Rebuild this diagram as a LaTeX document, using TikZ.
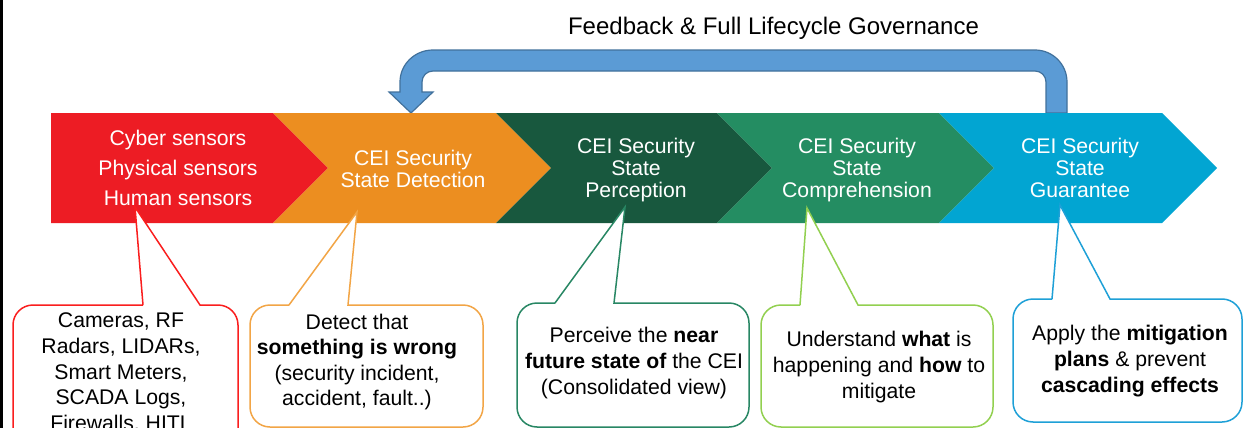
\documentclass[tikz,border=0pt]{standalone}
\usepackage{fontspec}
\setmainfont{Liberation Sans}
\usetikzlibrary{positioning,calc}
\definecolor{stRed}{RGB}{237,28,36}
\definecolor{stOrange}{RGB}{236,142,32}
\definecolor{stDkGreen}{RGB}{24,88,62}
\definecolor{stGreen}{RGB}{36,141,98}
\definecolor{stBlue}{RGB}{2,165,210}
\definecolor{bxRed}{RGB}{250,30,30}
\definecolor{bxOrange}{RGB}{242,165,70}
\definecolor{bxDkGreen}{RGB}{40,135,100}
\definecolor{bxGreen}{RGB}{146,208,80}
\definecolor{bxBlue}{RGB}{30,160,215}
\definecolor{fbBlue}{RGB}{91,155,213}
\definecolor{fbEdge}{RGB}{65,113,156}

\begin{document}
\begin{tikzpicture}[x=0.5pt, y=-0.5pt, semithick,
 stage/.style={text=white, align=center, font=\fontsize{10.6}{11}\selectfont},
 note/.style={align=center, font=\fontsize{10.6}{12.8}\selectfont}]
 \clip (0,0) rectangle (1243,428);
 \fill[white] (0,0) rectangle (1243,428);
 \draw[line width=1.5pt] (1.5,0) -- (1.5,428);
 % feedback loop
 \node[font=\fontsize{12}{14}\selectfont] (title) at (773.5,28) {Feedback \& Full Lifecycle Governance};
 \filldraw[fill=fbBlue, draw=fbEdge, line width=0.6pt] (1067,113) -- (1067,82)
   .. controls (1067,64.3) and (1052.7,50) .. (1035,50) -- (433,50)
   .. controls (414.8,50) and (400,64.3) .. (400,82) -- (400,92) -- (389,92) -- (411,113)
   -- (433,92) -- (422,92) -- (422,82) .. controls (422,75.9) and (426.9,71) .. (433,71)
   -- (1035,71) .. controls (1041.1,71) and (1046,75.9) .. (1046,82) -- (1046,113) -- cycle;
 % stages
 \fill[stRed] (51,113) -- (273,113) -- (328,168) -- (273,223) -- (51,223) -- cycle;
 \foreach \a/\b/\c in {273/496/stOrange, 496/717/stDkGreen, 717/939/stGreen, 939/1162/stBlue}
   \fill[\c] (\a,113) -- (\b,113) -- (\b+55,168) -- (\b,223) -- (\a,223) -- (\a+55,168) -- cycle;
 \node[stage, font=\fontsize{10.6}{15.2}\selectfont] (sensors) at (178,168) {Cyber sensors\\Physical sensors\\Human sensors};
 \node[stage] (detect) at (413,168.5) {CEI Security\\State Detection};
 \node[stage] (percep) at (636,170) {CEI Security\\State\\Perception};
 \node[stage] (compr) at (857,170) {CEI Security\\State\\Comprehension};
 \node[stage] (guar) at (1080,168) {CEI Security\\State\\Guarantee};
 % callouts
 \foreach \l/\t/\r/\b/\pa/\pb/\tx/\ty/\c in {13/305/238/480/143/200/135/207/bxRed,
   250/305/483/427/289/348/357/212/bxOrange, 517/303/749/427/555/614/625/207/bxDkGreen,
   761/305/993/427/800/858/807/208/bxGreen, 1013/299/1242/422/1052/1110/1060/205/bxBlue}
   \draw[\c, fill=white, line width=0.75pt] (\pa,\t) -- (\tx,\ty) -- (\pb,\t) [rounded corners=10pt]
     -- (\r,\t) -- (\r,\b) -- (\l,\b) -- (\l,\t) -- (\pa,\t);
 \node[note] (sens) at (121,373) {Cameras, RF\\Radars, LIDARs,\\Smart Meters,\\SCADA Logs,\\Firewalls, HITL};
 \node[note] (wrong) at (357,362) {Detect that\\\textbf{something is wrong}\\(security incident,\\accident, fault..)};
 \node[note] (near) at (634,363) {Perceive the \textbf{near}\\\textbf{future state of} the CEI\\(Consolidated view)};
 \node[note] (what) at (879,367) {Understand \textbf{what} is\\happening and \textbf{how} to\\mitigate};
 \node[note] (plans) at (1130,361) {Apply the \textbf{mitigation}\\\textbf{plans} \& prevent\\\textbf{cascading effects}};
\end{tikzpicture}
\end{document}
